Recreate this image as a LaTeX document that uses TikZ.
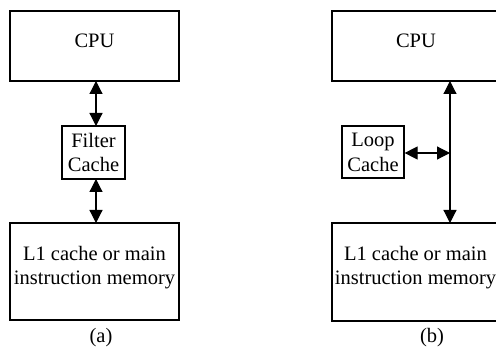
\documentclass[tikz,border=0pt]{standalone}
\usepackage{fontspec}
\setmainfont{Liberation Serif}
\usetikzlibrary{arrows.meta}
\begin{document}
\begin{tikzpicture}[x=1pt,y=-1pt,
  box/.style={draw=black, line width=1.2pt, inner sep=0pt, minimum width=#1},
  txt/.style={inner sep=0pt, align=center, font=\fontsize{20.5}{24.6}\selectfont},
  conn/.style={line width=1.2pt, {Triangle[length=13pt,width=13pt]}-{Triangle[length=13pt,width=13pt]}}
]
\clip (0,0) rectangle (496,350);
% (a)
\node[box=169, minimum height=70] (cpuA) at (94.5,46) {};
\node[txt, anchor=base] (cpuAt) at (94.5,48) {CPU};
\node[box=63, minimum height=53] (fc) at (93.5,152.5) {};
\node[txt] (fct) at (93.5,152.3) {Filter\\Cache};
\node[box=169, minimum height=97] (memA) at (94.5,271.5) {};
\node[txt] (memAt) at (94.5,267.6) {L1 cache or main\\instruction memory};
\node[txt] (la) at (101,338) {(a)};
\draw[conn] (96,81) -- (96,126);
\draw[conn] (96,179) -- (96,223);
% (b)
\node[box=168, minimum height=70] (cpuB) at (416,46) {};
\node[txt, anchor=base] (cpuBt) at (416,48) {CPU};
\node[box=62, minimum height=52] (lc) at (373,152) {};
\node[txt] (lct) at (373,152.3) {Loop\\Cache};
\node[box=168, minimum height=98] (memB) at (416,272) {};
\node[txt] (memBt) at (415.5,267.6) {L1 cache or main\\instruction memory};
\node[txt] (lb) at (432,338) {(b)};
\coordinate (bus) at (450,153);
\draw[conn] (450,81) -- (450,223);
\draw[conn] (lc.east |- bus) -- (bus);
\end{tikzpicture}
\end{document}
